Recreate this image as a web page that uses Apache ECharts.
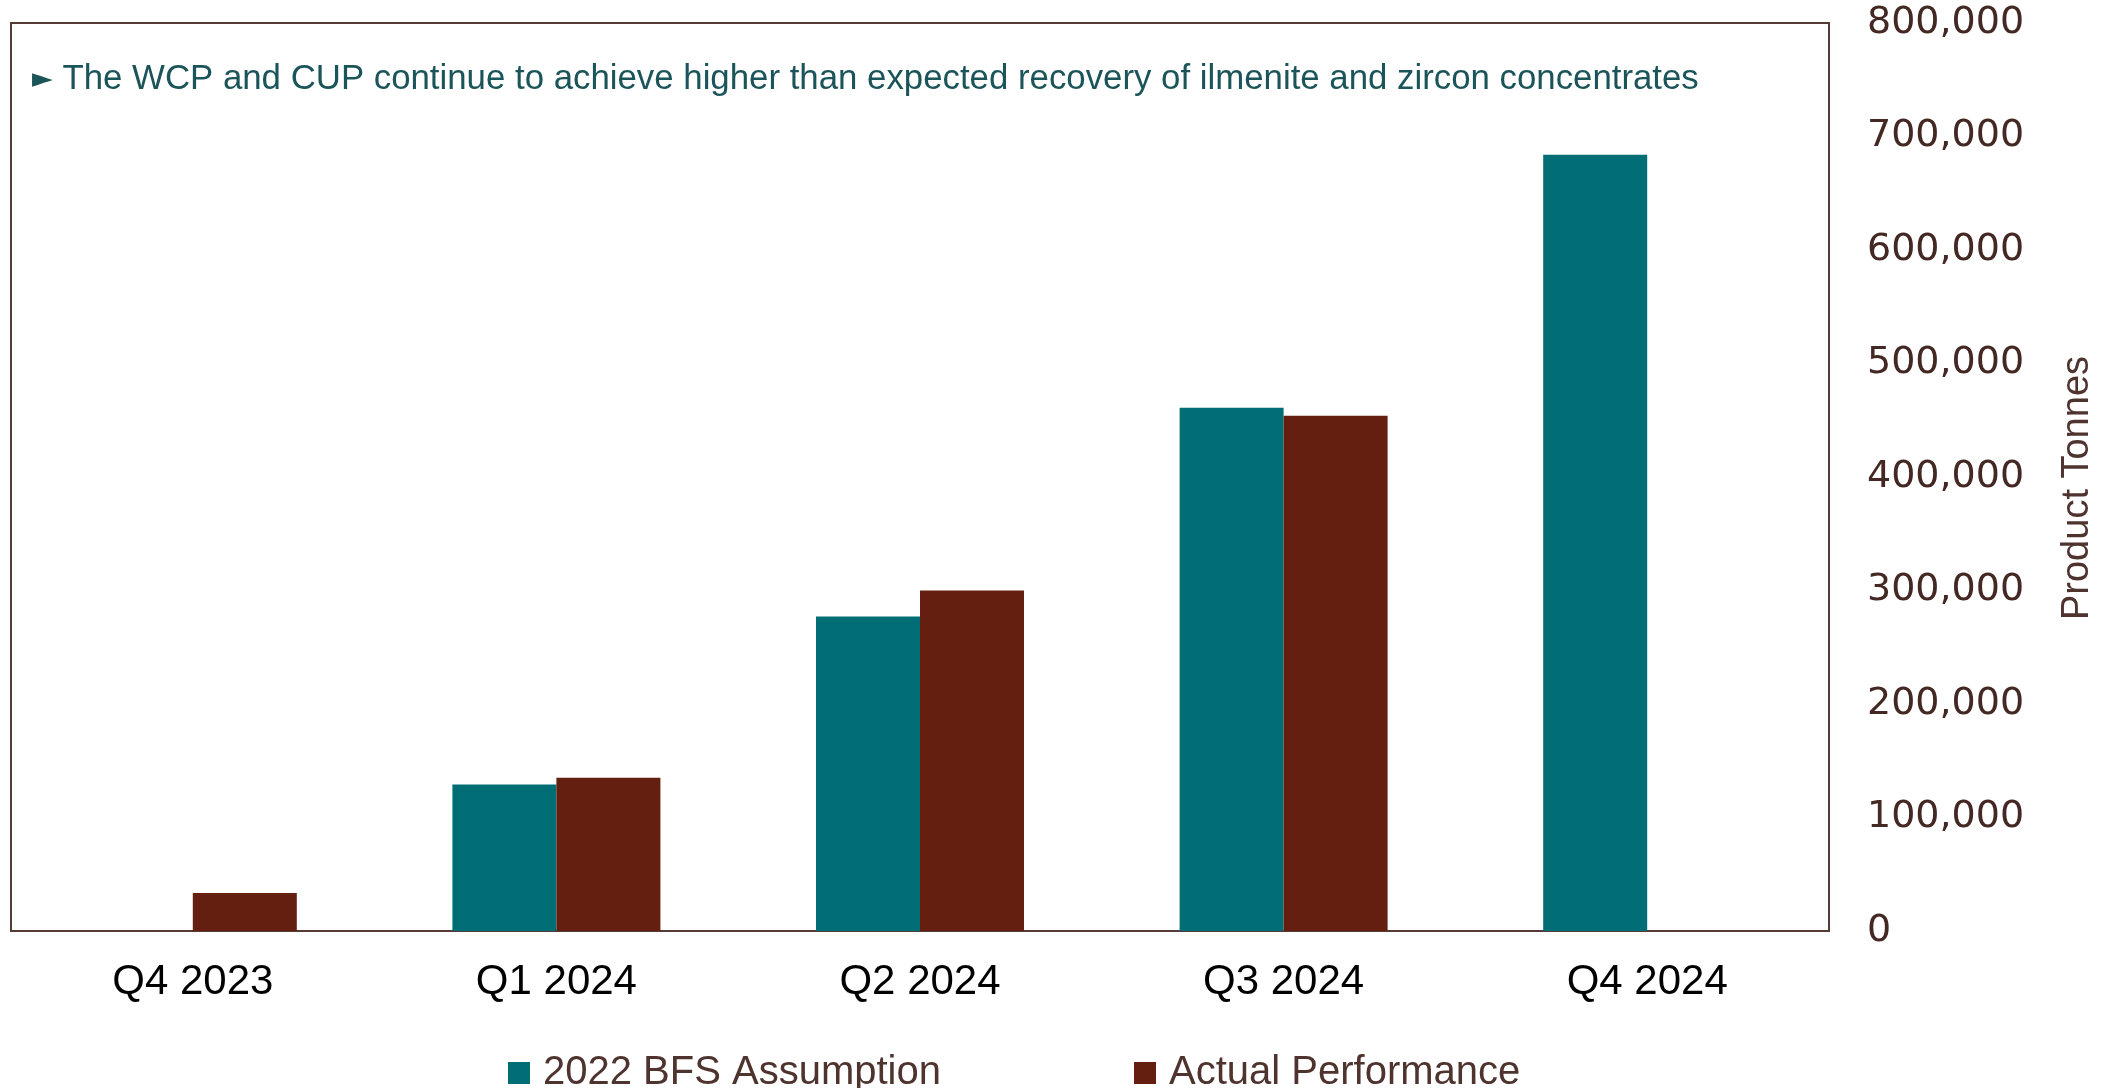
<!DOCTYPE html>
<html>
<head>
<meta charset="utf-8">
<title>Product Tonnes</title>
<script src="https://cdn.jsdelivr.net/npm/echarts@6/dist/echarts.min.js"></script>
<style>
    html, body { margin: 0; padding: 0; background: #fff; }
    #chart { width: 2118px; height: 1088px; }
</style>
</head>
<body>
<div id="chart"></div>
<script>
// quarters on the x axis
var categories = ['Q4 2023', 'Q1 2024', 'Q2 2024', 'Q3 2024', 'Q4 2024']
// product tonnes
var bfsAssumption = [null, 129000, 277000, 461000, 684000]
var actualPerformance = [33500, 135000, 300000, 454000, null]
var yTicks = [0, 100000, 200000, 300000, 400000, 500000, 600000, 700000, 800000]

var teal = '#006e74'
var brown = '#651f10'
var textBrown = '#4e332e'
var frameColor = '#553b36'

var option = {
    backgroundColor: '#ffffff',
    animation: false,
    title: {
        left: 27,
        top: 57,
        text: '{tri|►} The WCP and CUP continue to achieve higher than expected recovery of ilmenite and zircon concentrates',
        textStyle: {
            color: '#1b5459',
            fontFamily: 'Liberation Sans',
            fontWeight: 'normal',
            fontSize: 34.8,
            rich: {
                tri: {
                    color: '#1b5459',
                    fontFamily: 'DejaVu Sans',
                    fontSize: 27
                }
            }
        }
    },
    legend: {
        left: 503,
        top: 1048,
        icon: 'rect',
        itemWidth: 22,
        itemHeight: 22,
        itemGap: 193,
        textStyle: {
            color: textBrown,
            fontFamily: 'Liberation Sans',
            fontSize: 40,
            lineHeight: 40,
            padding: [0, 0, 0, 8]
        },
        data: ['2022 BFS Assumption', 'Actual Performance']
    },
    grid: {
        left: 11,
        right: 289,
        top: 23,
        bottom: 157,
        show: true,
        borderColor: frameColor,
        borderWidth: 2,
        backgroundColor: 'rgba(0,0,0,0)'
    },
    xAxis: {
        type: 'category',
        data: categories,
        axisLine: { show: true, lineStyle: { color: frameColor, width: 2 } },
        axisTick: { show: false },
        axisLabel: {
            margin: 30,
            color: '#000000',
            fontFamily: 'Liberation Sans',
            fontSize: 42
        }
    },
    yAxis: {
        type: 'value',
        position: 'right',
        min: yTicks[0],
        max: yTicks[yTicks.length - 1],
        interval: yTicks[1] - yTicks[0],
        name: 'Product Tonnes',
        nameLocation: 'middle',
        nameRotate: 90,
        nameGap: 230,
        nameTextStyle: {
            color: textBrown,
            fontFamily: 'Liberation Sans',
            fontSize: 38,
            padding: [0, 22, 0, 0]
        },
        axisLine: { show: false },
        axisTick: { show: false },
        splitLine: { show: false },
        axisLabel: {
            margin: 38,
            color: '#432823',
            fontFamily: 'DejaVu Sans',
            fontSize: 38,
            formatter: function (v) {
                return v.toLocaleString('en-US')
            }
        }
    },
    series: [
        {
            name: '2022 BFS Assumption',
            type: 'bar',
            barWidth: 104,
            barGap: '0%',
            itemStyle: { color: teal },
            data: bfsAssumption
        },
        {
            name: 'Actual Performance',
            type: 'bar',
            barWidth: 104,
            barGap: '0%',
            itemStyle: { color: brown },
            data: actualPerformance
        }
    ]
}

var myChart = echarts.init(document.getElementById('chart'))
myChart.setOption(option)
</script>
</body>
</html>
